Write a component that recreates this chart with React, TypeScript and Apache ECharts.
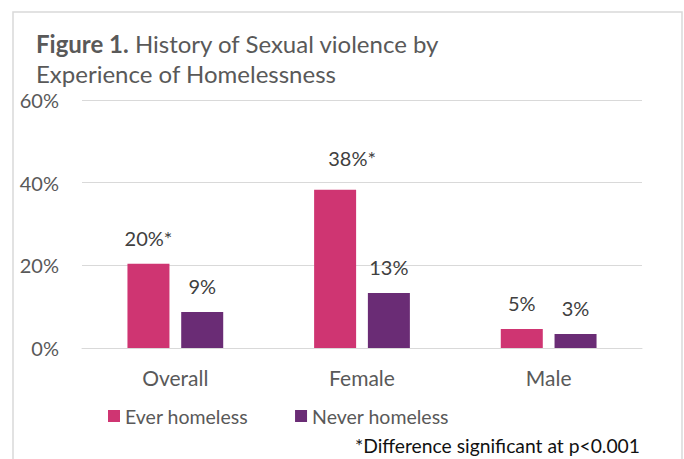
import React, { useEffect, useRef } from "react";
import * as echarts from "echarts";

const categories = ["Overall", "Female", "Male"];
const everHomeless = [20.4, 38.3, 4.6];
const neverHomeless = [8.7, 13.3, 3.4];
const everSignificant = [true, true, false];
const neverSignificant = [false, false, false];
const yTicks = [0, 20, 40, 60];
const seriesNames = ["Ever homeless", "Never homeless"];
const titleBold = "Figure 1.";
const titleLine1 = " History of Sexual violence by";
const titleLine2 = "Experience of Homelessness";
const footnote = "*Difference significant at p<0.001";

const FONT = "Lato, 'Open Sans', sans-serif";

export default function App() {
  const ref = useRef<HTMLDivElement>(null);
  useEffect(() => {
    document.body.style.margin = "0";
    const chart = echarts.init(ref.current!, null, { renderer: "svg" });
    const mkLabel = (flags: boolean[]) => ({
      show: true,
      position: "top",
      distance: 16,
      color: "#404040",
      fontSize: 20,
      fontFamily: FONT,
      formatter: (p: any) => Math.round(p.value) + "%" + (flags[p.dataIndex] ? "*" : ""),
    });
    const everData = everHomeless.map((v, i) =>
      categories[i] === "Female" ? { value: v, label: { offset: [17, -6] } } : v
    );
    chart.setOption({
      animation: false,
      backgroundColor: "#ffffff",
      textStyle: { fontFamily: FONT },
      title: {
        text: "{b|" + titleBold + "}{r|" + titleLine1 + "}\n{r|" + titleLine2 + "}",
        left: 31,
        top: 23,
        textStyle: {
          fontWeight: "normal",
          rich: {
            b: { fontSize: 24, fontWeight: "bold", color: "#595959", fontFamily: FONT, lineHeight: 30 },
            r: { fontSize: 24, fontWeight: "normal", color: "#595959", fontFamily: FONT, lineHeight: 30 },
          },
        },
      },
      legend: {
        data: seriesNames,
        left: 103,
        top: 401,
        itemWidth: 12,
        itemHeight: 12,
        itemGap: 47,
        icon: "rect",
        textStyle: { fontSize: 19.5, color: "#595959", fontFamily: FONT },
      },
      grid: { left: 82, right: 42, top: 100, bottom: 111, containLabel: false },
      xAxis: {
        type: "category",
        data: categories,
        axisLine: { show: true, lineStyle: { color: "#d9d9d9", width: 1 } },
        axisTick: { show: false },
        axisLabel: { fontSize: 21, color: "#595959", margin: 19, fontFamily: FONT },
      },
      yAxis: {
        type: "value",
        min: yTicks[0],
        max: yTicks[yTicks.length - 1],
        interval: 20,
        axisLine: { show: false },
        axisTick: { show: false },
        splitLine: { lineStyle: { color: "#d9d9d9", width: 1 } },
        axisLabel: { fontSize: 20, color: "#595959", margin: 23, formatter: "{value}%", fontFamily: FONT },
      },
      series: [
        {
          name: seriesNames[0],
          type: "bar",
          data: everData,
          barWidth: 42,
          barGap: "28%",
          itemStyle: { color: "#CF3572" },
          label: mkLabel(everSignificant),
        },
        {
          name: seriesNames[1],
          type: "bar",
          data: neverHomeless,
          barWidth: 42,
          itemStyle: { color: "#6A2C75" },
          label: mkLabel(neverSignificant),
        },
      ],
      graphic: [
        {
          type: "rect",
          shape: { x: 13, y: 12, width: 669, height: 470 },
          style: { fill: "none", stroke: "#d9d9d9", lineWidth: 1.5 },
          silent: true,
        },
        {
          type: "text",
          left: 355,
          top: 436,
          style: { text: footnote, fontSize: 19.3, fill: "#111111", fontFamily: FONT },
        },
      ],
    });
    return () => chart.dispose();
  }, []);
  return <div ref={ref} style={{ width: 684, height: 459 }} />;
}
